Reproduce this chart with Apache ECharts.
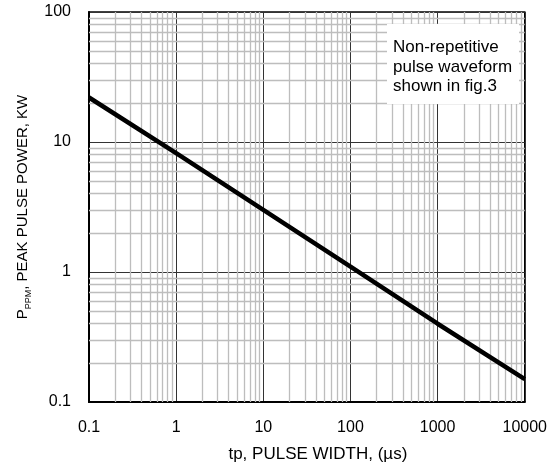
<!DOCTYPE html>
<html>
<head>
<meta charset="utf-8">
<script src="https://cdn.jsdelivr.net/npm/echarts@6/dist/echarts.min.js"></script>
<style>html,body{margin:0;padding:0;background:#fff;}#c{width:550px;height:468px;}</style>
</head>
<body>
<div id="c"></div>
<script>
// Pulse width (µs) and peak pulse power (kW)
var pulseWidth = [0.1, 1, 10, 100, 1000, 10000];
var peakPower = [22, 8.2, 3.0, 1.1, 0.4, 0.15];
var xTickLabels = ['0.1', '1', '10', '100', '1000', '10000'];
var yTickLabels = ['0.1', '1', '10', '100'];
var xDecades = [0.1, 1, 10, 100, 1000];
var yDecades = [0.1, 1, 10];
var minorSteps = [2, 3, 4, 5, 6, 7, 8, 9];
var noteLines = ['Non-repetitive', 'pulse waveform', 'shown in fig.3'];

var FONT = '"Liberation Sans", Arial, sans-serif';

function labelFrom(list, minExp) {
  return function (v) {
    var i = Math.round(Math.log10(v)) - minExp;
    return list[i] !== undefined ? list[i] : '';
  };
}

var minorLines = [];
xDecades.forEach(function (d) {
  minorSteps.forEach(function (m) { minorLines.push({ xAxis: +(d * m).toPrecision(6) }); });
});
yDecades.forEach(function (d) {
  minorSteps.forEach(function (m) { minorLines.push({ yAxis: +(d * m).toPrecision(6) }); });
});

var chart = echarts.init(document.getElementById('c'), null, { renderer: 'canvas' });
chart.setOption({
  animation: false,
  backgroundColor: '#fff',
  grid: { left: 89, right: 24, top: 12, bottom: 65, show: true, borderColor: '#000', borderWidth: 1.5 },
  xAxis: {
    type: 'log', logBase: 10, min: 0.1, max: 10000,
    name: 'tp, PULSE WIDTH, (µs)', nameLocation: 'middle', nameGap: 44,
    nameTextStyle: { fontFamily: FONT, fontSize: 17, color: '#000', padding: [0, 0, 0, 22] },
    axisLine: { show: true, lineStyle: { color: '#000', width: 2 } },
    axisTick: { show: false },
    axisLabel: { fontFamily: FONT, fontSize: 16, color: '#000', margin: 18, formatter: labelFrom(xTickLabels, -1) },
    splitLine: { show: true, lineStyle: { color: '#333', width: 1 } }
  },
  yAxis: {
    type: 'log', logBase: 10, min: 0.1, max: 100,
    name: '{a|P}{b|PPM}{a|, PEAK PULSE POWER, KW}', nameLocation: 'middle', nameGap: 57,
    nameTextStyle: {
      fontFamily: FONT, fontSize: 15, color: '#000',
      rich: {
        a: { fontFamily: FONT, fontSize: 15, color: '#000', lineHeight: 18, verticalAlign: 'bottom' },
        b: { fontFamily: FONT, fontSize: 9, color: '#000', lineHeight: 18, verticalAlign: 'bottom', padding: [0, 0, -3, 0] }
      }
    },
    axisLine: { show: true, lineStyle: { color: '#000', width: 2 } },
    axisTick: { show: false },
    axisLabel: { fontFamily: FONT, fontSize: 16, color: '#000', margin: 18, formatter: labelFrom(yTickLabels, -1) },
    splitLine: { show: true, lineStyle: { color: '#333', width: 1 } }
  },
  series: [
    {
      type: 'line', data: [], z: 1, silent: true,
      markLine: {
        silent: true, symbol: ['none', 'none'], label: { show: false },
        lineStyle: { color: '#bdbdbd', width: 1.3, type: 'solid' },
        emphasis: { disabled: true },
        data: minorLines
      }
    },
    {
      type: 'line', z: 5,
      data: pulseWidth.map(function (x, i) { return [x, peakPower[i]]; }),
      symbol: 'none',
      lineStyle: { color: '#000', width: 4.5 }
    }
  ],
  graphic: [
    { type: 'rect', left: 387, top: 24, z: 100, shape: { width: 132, height: 80 }, style: { fill: '#fff' } },
    { type: 'text', left: 393, top: 38, z: 101, style: { text: noteLines.join('\n'), font: '17px ' + FONT, fill: '#000', lineHeight: 19.5 } }
  ]
});
</script>
</body>
</html>
